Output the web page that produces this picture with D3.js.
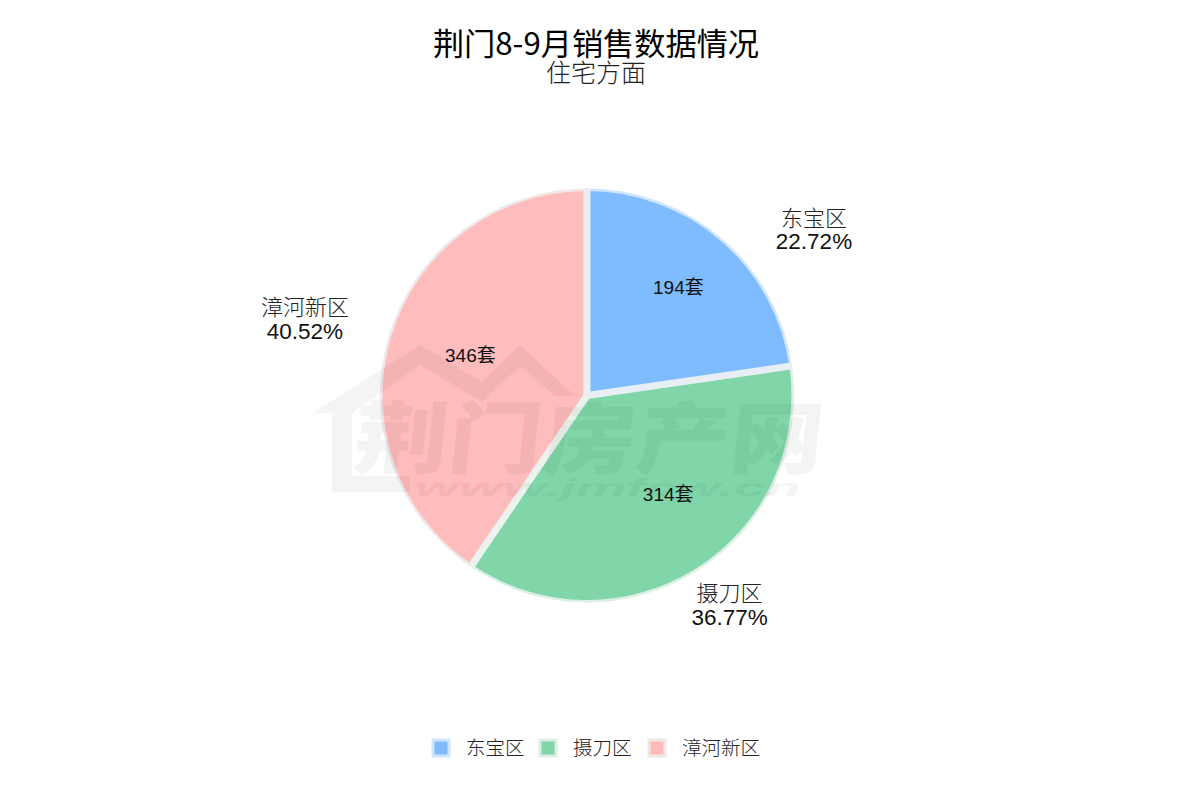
<!DOCTYPE html>
<html>
<head>
<meta charset="utf-8">
<style>
  html, body { margin: 0; background: #fff; }
  text { font-family: "Noto Sans CJK SC", "Liberation Sans", sans-serif; }
  .num { font-family: "Liberation Sans", "Noto Sans CJK SC", sans-serif; }
</style>
<script src="https://cdn.jsdelivr.net/npm/d3@7"></script>
</head>
<body>
<svg id="chart" width="1180" height="800"></svg>
<script>
const titleText = '荆门8-9月销售数据情况';
const subtitleText = '住宅方面';
const districts = ['东宝区', '摄刀区', '漳河新区'];
const units = [194, 314, 346];
const shares = ['22.72%', '36.77%', '40.52%'];
const fills = ['#7fbcff', '#80d6a9', '#ffbcbc'];
const borders = ['#d0e5fd', '#dcefe5', '#efe8e8'];
const gapColors = ['#eceef4', '#e8eff4', '#ecf2ed'];

// label nudges from the slice centroid
const innerNudge = [[6, -10], [12, -12], [8, -2]];
const outerNudge = [[40, 50], [-9, -33], [-9, 7]];

const svg = d3.select('#chart');
const cx = 587, cy = 395.5, radius = 207, border = 2.5, gap = 7;

svg.append('text').attr('x', 596).attr('y', 55).attr('text-anchor', 'middle')
    .style('font-size', '31.2px').attr('fill', '#000').text(titleText);
svg.append('text').attr('x', 596).attr('y', 82).attr('text-anchor', 'middle')
    .style('font-size', '25px').style('font-weight', 300).attr('fill', '#222').text(subtitleText);

const pie = d3.pie().sort(null).value(d => d)(units);
const back = d3.arc().innerRadius(0).outerRadius(radius);
const front = d3.arc().innerRadius(0).outerRadius(radius - border);
const inner = d3.arc().innerRadius(0).outerRadius(radius * 1.26);
const outer = d3.arc().innerRadius(radius * 1.38).outerRadius(radius * 1.38);

const g = svg.append('g').attr('transform', `translate(${cx},${cy})`);
// pale rim, then the fill, then pale gaps along the slice edges
g.selectAll('path.edge').data(pie).join('path')
    .attr('class', 'edge')
    .attr('d', back)
    .attr('fill', (d, i) => borders[i]);
g.selectAll('path.slice').data(pie).join('path')
    .attr('class', 'slice')
    .attr('d', front)
    .attr('fill', (d, i) => fills[i]);
g.selectAll('line.gap').data(pie).join('line')
    .attr('class', 'gap')
    .attr('x1', 0).attr('y1', 0)
    .attr('x2', d => d3.pointRadial(d.startAngle, radius)[0])
    .attr('y2', d => d3.pointRadial(d.startAngle, radius)[1])
    .attr('stroke', (d, i) => gapColors[i])
    .attr('stroke-width', gap);

// value labels inside
pie.forEach((d, i) => {
    const c = inner.centroid(d);
    g.append('text')
        .attr('x', c[0] + innerNudge[i][0])
        .attr('y', c[1] + innerNudge[i][1])
        .attr('text-anchor', 'middle')
        .attr('dy', '0.35em')
        .attr('class', 'num')
        .style('font-size', '19px')
        .attr('fill', '#111')
        .text(units[i] + '套');
});

// name + percent labels outside
pie.forEach((d, i) => {
    const c = outer.centroid(d);
    const lx = c[0] + outerNudge[i][0], ly = c[1] + outerNudge[i][1];
    g.append('text').attr('x', lx).attr('y', ly - 11).attr('text-anchor', 'middle').attr('dy', '0.35em')
        .style('font-size', '22px').style('font-weight', 300).attr('fill', '#222').text(districts[i]);
    g.append('text').attr('x', lx).attr('y', ly + 12).attr('text-anchor', 'middle').attr('dy', '0.35em')
        .attr('class', 'num').style('font-size', '22.5px').attr('fill', '#111').text(shares[i]);
});

// watermark, faint, over the pie
const wm = svg.append('g').attr('fill', '#000').attr('opacity', 0.04);
wm.append('path')
    .attr('d', 'M313 413 L420 345 L482 382 L520 345 L575 396 L555 396 L520 366 L482 402 L420 365 L352 413 L352 476 L410 476 L410 492 L332 492 L332 413 Z');
wm.append('text').attr('x', 0).attr('y', 0)
    .attr('transform', 'translate(352,467) skewX(-6) scale(1.02,0.85)')
    .style('font-size', '92px').style('font-weight', 900).text('荆门房产网');
wm.append('text').attr('x', 415).attr('y', 496)
    .attr('class', 'num').style('font-size', '24px').style('font-weight', 700).style('font-style', 'italic')
    .attr('textLength', 385).attr('lengthAdjust', 'spacingAndGlyphs').text('www.jmfcw.cn');

// legend
const legendX = [441, 548, 657];
const legend = svg.append('g');
districts.forEach((name, i) => {
    legend.append('rect')
        .attr('x', legendX[i] - 8).attr('y', 740).attr('width', 16).attr('height', 16)
        .attr('fill', fills[i]).attr('stroke', borders[i]).attr('stroke-width', 3);
    legend.append('text')
        .attr('x', legendX[i] + 25).attr('y', 748).attr('dy', '0.36em')
        .style('font-size', '19.5px').style('font-weight', 300).attr('fill', '#222').text(name);
});
</script>
</body>
</html>
